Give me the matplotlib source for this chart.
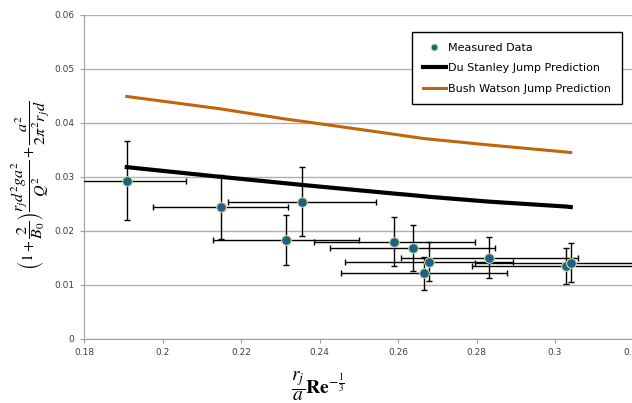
import matplotlib.pyplot as plt

# measured data
x_meas = [0.1909, 0.2148, 0.2356, 0.2315, 0.2590, 0.2637, 0.2679, 0.2666, 0.2833, 0.3028, 0.3040]
y_meas = [0.0293, 0.0244, 0.0254, 0.0183, 0.0180, 0.0168, 0.0143, 0.0121, 0.0150, 0.0135, 0.0141]
y_err = [0.0073, 0.0060, 0.0064, 0.0046, 0.0045, 0.0042, 0.0036, 0.0030, 0.0038, 0.0034, 0.0036]
x_err = [0.0151, 0.0172, 0.0189, 0.0186, 0.0205, 0.0210, 0.0213, 0.0212, 0.0225, 0.0240, 0.0245]

# predictions (sorted x)
x_pred = [0.1909, 0.2148, 0.2315, 0.2356, 0.2590, 0.2637, 0.2666, 0.2679, 0.2833, 0.3028, 0.3040]
du_stanley = [0.0318, 0.0300, 0.0288, 0.0285, 0.0269, 0.0266, 0.0264, 0.0263, 0.0254, 0.0245, 0.0244]
bush_watson = [0.0449, 0.0426, 0.0407, 0.0403, 0.0379, 0.0374, 0.0371, 0.0370, 0.0359, 0.0346, 0.0345]

x_ticks = [0.18, 0.2, 0.22, 0.24, 0.26, 0.28, 0.3, 0.32]
y_ticks = [0, 0.01, 0.02, 0.03, 0.04, 0.05, 0.06]

plt.rcParams['mathtext.fontset'] = 'stix'

fig = plt.figure(figsize=(6.32, 4.03), dpi=100)
ax = fig.add_axes([84 / 632, 1 - 338.7 / 403, (633.5 - 84) / 632, (338.7 - 15) / 403])

ax.plot(x_pred, du_stanley, color='black', lw=3, label='Du Stanley Jump Prediction', zorder=2)
ax.plot(x_pred, bush_watson, color='#c0650a', lw=2.2, label='Bush Watson Jump Prediction', zorder=2)
ax.errorbar(x_meas, y_meas, xerr=x_err, yerr=y_err, fmt='none', ecolor='black',
            elinewidth=1, capsize=2.5, capthick=1, zorder=3)
ax.plot(x_meas, y_meas, 'o', color='#1f5f8b', markeredgecolor='#c8d98c', markeredgewidth=0.8,
        markersize=7, label='Measured Data', zorder=4, linestyle='none')

ax.set_xlim(0.18, 0.32)
ax.set_ylim(0, 0.06)
ax.set_xticks(x_ticks)
ax.set_xticklabels(['0.18', '0.2', '0.22', '0.24', '0.26', '0.28', '0.3', '0.32'])
ax.set_yticks(y_ticks)
ax.set_yticklabels(['0', '0.01', '0.02', '0.03', '0.04', '0.05', '0.06'])
ax.yaxis.grid(True, color='#b0b0b0', lw=1)
ax.set_axisbelow(True)
for s in ['top', 'right']:
    ax.spines[s].set_visible(False)
for s in ['left', 'bottom']:
    ax.spines[s].set_color('#a0a0a0')
ax.tick_params(colors='#a0a0a0', labelcolor='#404040', labelsize=6.5, length=3, pad=4)

handles, labels = ax.get_legend_handles_labels()
order = [2, 0, 1]
leg = ax.legend([handles[i] for i in order], [labels[i] for i in order],
                loc='upper left', bbox_to_anchor=(412 / 632, 1 - 32 / 403),
                bbox_transform=fig.transFigure, borderaxespad=0, fancybox=False,
                edgecolor='black', framealpha=1, fontsize=8, handlelength=2.1,
                handletextpad=0.2, borderpad=0.95, labelspacing=0.95, markerscale=0.7)
leg.get_frame().set_linewidth(1)

fig.text(31 / 632, 1 - 185 / 403,
         r'$\left(1+\dfrac{2}{B_0}\right)\dfrac{r_j d^2 g a^2}{Q^2}+\dfrac{a^2}{2\pi^2 r_j d}$',
         rotation=90, ha='center', va='center', fontsize=11.5)
fig.text(318 / 632, 1 - 386 / 403, r'$\dfrac{r_j}{a}\mathbf{Re}^{-\frac{1}{3}}$',
         ha='center', va='center', fontsize=14)

fig.savefig('out.png', dpi=100)
